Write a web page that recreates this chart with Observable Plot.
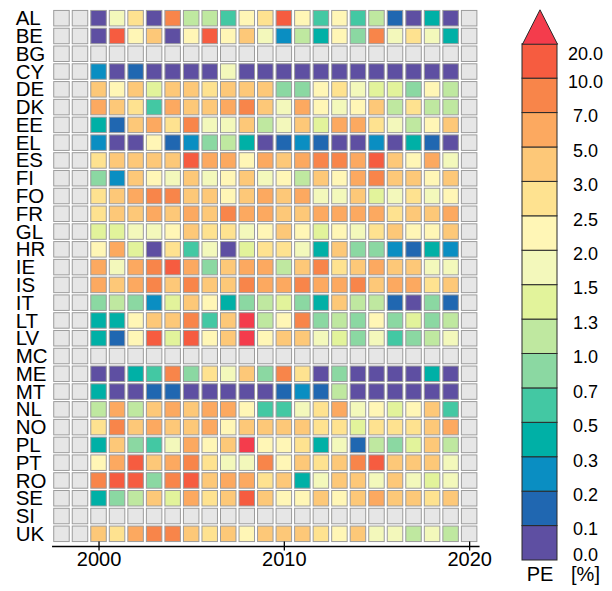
<!DOCTYPE html>
<html><head><meta charset="utf-8">
<script src="https://cdn.jsdelivr.net/npm/d3@7"></script>
<script src="https://cdn.jsdelivr.net/npm/@observablehq/plot@0.6"></script>
<style>
html,body{margin:0;padding:0;background:#fff;}
#chart{position:relative;width:612px;height:591px;font-family:"Liberation Sans",Arial,sans-serif;}
#chart svg{position:absolute;top:0;left:0;}
</style></head><body><div id="chart"></div>
<script>
// ---- categories ----
const countries = ["AL","BE","BG","CY","DE","DK","EE","EL","ES","FI","FO","FR","GL","HR","IE","IS","IT","LT","LV","MC","ME","MT","NL","NO","PL","PT","RO","SE","SI","UK"];
const years = [1998,1999,2000,2001,2002,2003,2004,2005,2006,2007,2008,2009,2010,2011,2012,2013,2014,2015,2016,2017,2018,2019,2020];
const tickYears = [2000, 2010, 2020];

// ---- colour classes (PE, %) ----
const thresholds = [0.1,0.2,0.3,0.5,0.7,1.0,1.3,1.5,2.0,2.5,3.0,5.0,7.0,10.0,20.0];
const classColors = ["#5e4fa2","#2067b1","#0a8ec2","#00b0a6","#43c8a3","#8bd8a2","#bfe8a0","#e2f39b","#f3f8bb","#fff6b6","#fee290","#fdc878","#fca960","#f8854a","#f65c40","#f43c4c"];
const legendTitle = "PE";
const legendUnit = "[%]";

// ---- values per country, 1998..2020 (null = no data) ----
const _ = null;
const AL = [_,_,0.05,1.8,2.8,0.05,8.5,1.15,1.15,0.6,2.2,2.8,14,2.2,0.6,2.2,0.6,1.15,0.15,0.05,0.4,0.05,_];
const BE = [_,_,0.05,14,2.2,4,0.05,2.2,14,2.2,4,1.8,0.25,1.15,0.4,2.2,0.85,8.5,1.8,2.8,1.8,0.4,_];
const BG = [_,_,_,_,_,_,_,_,_,_,_,_,_,_,_,_,_,_,_,_,_,_,_];
const CY = [_,_,0.25,0.05,0.15,0.05,0.05,0.05,0.05,1.8,0.05,0.05,0.05,0.05,0.05,0.05,0.05,0.05,0.05,0.05,0.05,0.05,_];
const DE = [_,_,4,2.2,4,1.4,4,4,2.8,4,4,4,0.85,0.85,2.2,2.8,1.8,1.4,1.4,0.85,2.2,1.15,_];
const DK = [_,_,6,4,2.8,0.6,6,4,4,6,8.5,4,1.8,6,2.2,1.8,2.2,4,1.15,2.8,1.15,1.15,_];
const EE = [_,_,0.4,0.15,4,6,2.8,8.5,1.8,1.8,4,1.15,1.8,4,1.4,6,6,2.8,1.8,1.15,2.2,4,_];
const EL = [_,_,0.25,0.05,0.05,2.2,0.15,0.25,0.85,1.15,0.4,0.05,0.15,0.25,0.15,0.05,0.05,0.25,0.05,0.4,0.15,0.05,_];
const ES = [_,_,2.8,4,4,4,4,14,6,6,2.2,6,4,6,8.5,8.5,6,14,4,2.2,6,1.8,_];
const FI = [_,_,0.85,0.25,4,2.2,1.8,4,1.8,2.2,4,1.8,2.2,1.15,4,2.2,6,8.5,4,4,2.2,4,_];
const FO = [_,_,2.8,4,6,8.5,8.5,4,4,2.2,4,6,4,6,1.8,1.8,4,1.4,1.8,2.8,1.8,2.2,_];
const FR = [_,_,2.8,4,4,6,4,6,4,8.5,6,6,4,4,6,6,6,6,2.8,4,4,6,_];
const GL = [_,_,1.4,1.4,1.8,1.8,2.2,4,2.8,2.8,1.8,2.2,4,2.2,1.4,2.2,1.8,2.8,4,2.2,2.2,4,_];
const HR = [_,_,2.2,6,1.4,0.05,2.8,0.6,1.8,0.05,1.4,2.8,2.8,1.8,0.4,4,0.85,0.85,0.25,0.15,0.4,0.25,_];
const IE = [_,_,6,1.8,6,8.5,14,6,0.85,4,6,6,1.15,4,8.5,2.8,4,6,4,4,1.8,1.8,_];
const IS = [_,_,6,4,6,8.5,4,8.5,4,4,8.5,6,6,8.5,6,6,8.5,4,6,6,2.8,4,_];
const IT = [_,_,0.85,1.15,0.85,0.25,1.4,4,2.2,0.4,0.85,1.15,1.4,0.85,0.4,4,1.15,1.15,0.15,0.05,0.85,0.15,_];
const LT = [_,_,0.4,0.4,2.2,4,4,8.5,0.6,4,25,1.15,2.2,8.5,0.85,1.15,0.85,2.2,0.85,1.4,0.85,1.15,_];
const LV = [_,_,0.4,0.15,2.2,14,1.4,14,2.2,4,25,2.2,4,4,1.8,1.4,0.85,1.8,0.6,0.85,1.15,1.8,_];
const MC = [_,_,_,_,_,_,_,_,_,_,_,_,_,_,_,_,_,_,_,_,_,_,_];
const ME = [_,_,0.05,0.05,0.4,0.6,8.5,0.85,2.8,1.8,4,0.85,8.5,2.8,0.05,0.85,0.05,0.05,0.05,0.05,0.4,0.05,_];
const MT = [_,_,0.4,0.05,0.05,0.15,0.15,0.05,0.05,0.05,0.05,0.05,0.15,0.25,0.15,1.15,0.05,0.05,0.05,0.05,0.05,0.05,_];
const NL = [_,_,1.15,6,1.15,4,6,4,6,6,2.2,0.6,0.6,1.8,2.8,6,1.8,2.2,1.4,2.2,4,0.6,_];
const NO = [_,_,2.8,8.5,4,6,4,4,6,2.2,4,4,4,4,2.8,2.8,1.4,2.8,2.8,2.8,4,6,_];
const PL = [_,_,0.4,4,0.85,0.6,1.8,6,2.2,4,25,2.2,2.2,2.8,0.4,1.8,0.15,1.15,0.85,1.4,4,1.15,_];
const PT = [_,_,2.2,6,14,4,6,8.5,2.8,1.8,1.8,8.5,2.2,4,2.8,4,8.5,14,4,4,4,1.8,_];
const RO = [_,_,8.5,14,14,0.85,8.5,14,4,6,6,2.8,4,0.4,1.8,4,4,1.8,4,1.8,1.4,1.8,_];
const SE = [_,_,0.4,0.85,1.15,4,1.4,6,2.8,4,14,4,2.2,2.2,4,2.2,4,6,4,4,2.8,4,_];
const SI = [_,_,_,_,_,_,_,_,_,_,_,_,_,_,_,_,_,_,_,_,_,_,_];
const UK = [_,_,4,2.8,6,8.5,8.5,4,2.8,4,2.2,4,4,4,2.8,2.2,4,1.8,1.8,1.15,1.8,1.15,_];

const series = {AL,BE,BG,CY,DE,DK,EE,EL,ES,FI,FO,FR,GL,HR,IE,IS,IT,LT,LV,MC,ME,MT,NL,NO,PL,PT,RO,SE,SI,UK};
const table = countries.flatMap(c => years.map((y, i) => ({country: c, year: y, value: series[c][i]})));
const missing = table.filter(d => d.value == null);
const valid = table.filter(d => d.value != null);

const font = "'Liberation Sans', Arial, Helvetica, sans-serif";
const cellStroke = "#9c9c9c";

const main = Plot.plot({
  width: 612, height: 591,
  marginLeft: 52.2, marginRight: 133.6, marginTop: 6, marginBottom: 45,
  style: {fontFamily: font, background: "transparent", color: "black"},
  x: {type: "band", domain: years, paddingInner: 0.1635, paddingOuter: 0.082, round: false, axis: null},
  y: {type: "band", domain: countries, paddingInner: 0.128, paddingOuter: 0.25, round: false, axis: null},
  color: {type: "threshold", domain: thresholds, range: classColors},
  marks: [
    Plot.cell(missing, {x: "year", y: "country", fill: "#e6e6e6", stroke: cellStroke, strokeWidth: 1}),
    Plot.cell(valid, {x: "year", y: "country", fill: "value", stroke: cellStroke, strokeWidth: 1}),
    Plot.frame({anchor: "bottom", stroke: "black", strokeWidth: 1.3}),
    Plot.axisX({ticks: tickYears, tickSize: 9, tickPadding: 1, dy: -4.5, fontSize: 20, tickFormat: d => String(d), stroke: "black", strokeWidth: 1.3, label: null}),
    Plot.axisY({tickSize: 0, tickPadding: 0, textAnchor: "start", dx: -37, fontSize: 20.5, label: null})
  ]
});

// ---- colour bar legend ----
const bounds = [0, ...thresholds];             // 0.0 ... 20.0
const segs = thresholds.map((t, i) => ({lo: i, hi: i + 1, color: classColors[i]}));
const n = segs.length;
const arrow = [{x: 0, y: n}, {x: 0.5, y: n + 1}, {x: 1, y: n}, {x: 0, y: n}];
const labels = bounds.map((b, i) => ({i, text: b.toFixed(1)}));

const legend = Plot.plot({
  width: 132, height: 591,
  marginLeft: 42, marginRight: 55, marginTop: 9.3, marginBottom: 31,
  style: {fontFamily: font, background: "transparent", color: "black", overflow: "visible"},
  x: {domain: [0, 1], axis: null},
  y: {domain: [0, n + 1], axis: null},
  marks: [
    Plot.rect(segs, {x1: () => 0, x2: () => 1, y1: "lo", y2: "hi", fill: "color", stroke: "#2a2a2a", strokeWidth: 1}),
    Plot.line(arrow, {x: "x", y: "y", fill: classColors[n], stroke: "#2a2a2a", strokeWidth: 1}),
    Plot.text(labels.filter(d => d.i > 0 && d.i < n), {y: "i", text: "text", frameAnchor: "right", textAnchor: "middle", dx: 28, dy: 3.5, fontSize: 18}),
    Plot.text(labels.filter(d => d.i === 0), {y: "i", text: "text", frameAnchor: "right", textAnchor: "middle", dx: 28, dy: -5, fontSize: 18}),
    Plot.text(labels.filter(d => d.i === n), {y: "i", text: "text", frameAnchor: "right", textAnchor: "middle", dx: 28, dy: 9.7, fontSize: 18}),
    Plot.text([legendTitle], {text: d => d, frameAnchor: "bottom", textAnchor: "middle", dy: 20, fontSize: 20}),
    Plot.text([legendUnit], {text: d => d, frameAnchor: "bottom-right", textAnchor: "middle", dx: 28, dy: 20, fontSize: 20})
  ]
});
legend.style.left = "480px";

const root = document.getElementById("chart");
root.appendChild(main);
root.appendChild(legend);
</script>
</body></html>
